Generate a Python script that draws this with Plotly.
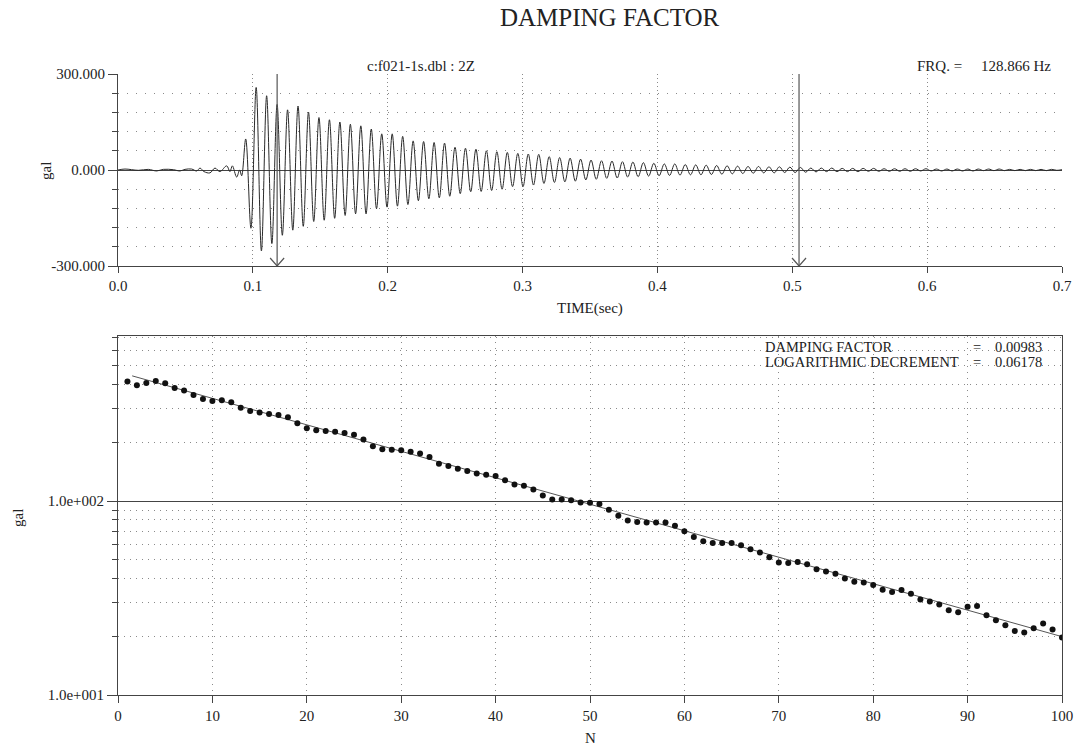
import plotly.graph_objects as go

# ---------------- data ----------------
FRQ_HZ = 128.866
DAMPING_FACTOR = "0.00983"
LOG_DECREMENT = "0.06178"

# pre-onset noise of the record (time s, acceleration gal)
noise_t = [0.0, 0.0052, 0.0151, 0.0225, 0.0287, 0.0336, 0.0410, 0.0460, 0.0497, 0.0546,
           0.0584, 0.0608, 0.0638, 0.0682, 0.0719, 0.0756, 0.0806, 0.0830, 0.0848, 0.0880,
           0.0902, 0.0917]
noise_v = [0, 3, -1, 2, -3, 2, 1, -3, 2, 3,
           -3, 6, -5, -9, 6, -5, 13, -5, 13, -22,
           0, -18]

# successive extrema (alternating peak / trough, gal) of the free vibration,
# first extremum at onset_t, one extremum every half period
onset_t = 0.0947
extrema_gal = [97, -182, 258, -253, 232, -230, 205, -204, 188, -188,
               200, -176, 181, -161, 164, -157, 157, -151, 150, -142,
               143, -137, 138, -137, 128, -121, 113, -116, 113, -113,
               105, -108, 91, -96, 89, -90, 86, -87, 84, -82,
               71, -74, 68, -68, 65, -67, 60, -64, 57, -60,
               55, -52, 52, -52, 50, -47, 49, -42, 42, -39,
               39, -37, 37, -35, 34, -31, 31, -29, 29, -26,
               28, -25, 26, -22, 25, -21, 23, -19, 21, -18,
               19, -17, 19, -16, 17, -15, 16, -15, 15, -14,
               14, -13, 13, -12, 12, -11, 11, -10, 11, -9,
               10, -9, 10, -8, 9, -8, 8, -7, 6, -6,
               6, -5, 6, -5, 5, -5, 5, -5, 5, -4,
               5, -4, 4, -4, 4, -4, 4, -4, 4, -3,
               4, -3, 3, -3, 3, -3, 3, -3, 3, -3,
               3, -2, 3, -2, 3, -2, 2, -2, 2, -2,
               2, -2, 2, -2, 2, -1, 1]

cursor_times = [0.118, 0.505]

# damping analysis: half-cycle number N and peak-to-peak amplitude (gal)
cycle_n = list(range(1, 101))
amp_gal = [414, 396, 407, 417, 406, 384, 372, 353, 337, 329,
           332, 324, 303, 292, 287, 282, 278, 271, 252, 238,
           232, 230, 228, 225, 220, 208, 192, 185, 184, 183,
           180, 176, 169, 156, 152, 147, 143, 139, 137, 135,
           128, 122, 120, 115, 107, 102, 102, 101, 98.5, 98,
           96.6, 90.2, 84, 79.5, 78.1, 77.6, 77.6, 77.6, 74.6, 70,
           65.4, 62.2, 60.8, 60.8, 60.8, 59.3, 56.4, 54.3, 51.4, 48.3,
           47.9, 48.5, 47.2, 44.5, 43.4, 42.2, 39.9, 38.4, 38.1, 36.9,
           34.9, 34.0, 34.8, 33.3, 31.1, 30.4, 29.3, 27.4, 26.7, 28.5,
           28.8, 25.8, 24.3, 22.9, 21.4, 21.0, 22.1, 23.4, 21.8, 19.8]
fit_n = [1.5, 100]
fit_gal = [443, 20.0]

top_xticks = [0.0, 0.1, 0.2, 0.3, 0.4, 0.5, 0.6, 0.7]
top_yticks = [-300, 0, 300]
top_yticktext = ["-300.000", "0.000", "300.000"]
top_yminor = [-240, -180, -120, -60, 60, 120, 180, 240]
bot_xticks = [0, 10, 20, 30, 40, 50, 60, 70, 80, 90, 100]
bot_yticks = [10, 100]
bot_yticktext = ["1.0e+001", "1.0e+002"]
bot_yminor = [20, 30, 40, 50, 60, 70, 80, 90, 200, 300, 400, 500, 600, 700]

# ---------------- figure ----------------
W, H = 1074, 751
FONT = "Liberation Serif"
AX = "#444444"
GRID = "#8a8a8a"


def px(x):
    return x / W


def py(y):
    return 1 - y / H


half_period = 0.5 / FRQ_HZ
wave_t = noise_t + [onset_t + k * half_period for k in range(len(extrema_gal))]
wave_v = noise_v + extrema_gal

fig = go.Figure()
fig.add_trace(go.Scatter(x=wave_t, y=wave_v, mode="lines", xaxis="x", yaxis="y",
                         line=dict(color="#2a2a2a", width=1, shape="spline", smoothing=1.0),
                         showlegend=False, hoverinfo="skip"))
fig.add_trace(go.Scatter(x=fit_n, y=fit_gal, mode="lines", xaxis="x2", yaxis="y2",
                         line=dict(color="#555555", width=1), showlegend=False))
fig.add_trace(go.Scatter(x=cycle_n, y=amp_gal, mode="markers", xaxis="x2", yaxis="y2",
                         marker=dict(color="#111111", size=6), showlegend=False))

tickfont = dict(family=FONT, size=15, color="#222222")
fig.update_layout(
    template="none",
    width=W, height=H, autosize=False,
    margin=dict(l=0, r=0, t=0, b=0, pad=0),
    paper_bgcolor="white", plot_bgcolor="white",
    font=dict(family=FONT, size=15, color="#222222"),
    xaxis=dict(domain=[px(118), px(1062)], range=[0, 0.7], anchor="y", automargin=False,
               tickmode="array", tickvals=top_xticks,
               ticktext=[f"{v:.1f}" for v in top_xticks],
               ticks="outside", ticklen=6, tickcolor=AX, tickfont=tickfont,
               showline=True, linecolor=AX, linewidth=1, mirror=False,
               showgrid=True, gridcolor=GRID, griddash="1px,3px", gridwidth=1,
               zeroline=False),
    yaxis=dict(domain=[py(266), py(74)], range=[-300, 300], anchor="x", automargin=False,
               tickmode="array", tickvals=top_yticks, ticktext=top_yticktext,
               ticks="outside", ticklen=9, tickcolor=AX, tickfont=tickfont,
               showline=True, linecolor=AX, linewidth=1,
               showgrid=True, gridcolor=GRID, griddash="1px,8px", gridwidth=1,
               zeroline=True, zerolinecolor=AX, zerolinewidth=1,
               minor=dict(tickmode="array", tickvals=top_yminor, ticks="outside",
                          ticklen=5, tickcolor=AX, showgrid=True, gridcolor=GRID,
                          griddash="1px,8px", gridwidth=1)),
    xaxis2=dict(domain=[px(118), px(1062)], range=[0, 100], anchor="y2", automargin=False,
                tickmode="array", tickvals=bot_xticks,
                ticks="outside", ticklen=7, tickcolor=AX, tickfont=tickfont,
                showline=True, linecolor=AX, linewidth=1, mirror=True,
                showgrid=True, gridcolor=GRID, griddash="1px,5px", gridwidth=1,
                zeroline=False),
    yaxis2=dict(domain=[py(695), py(336)], type="log", range=[1, 2.852], anchor="x2",
                automargin=False,
                tickmode="array", tickvals=bot_yticks, ticktext=bot_yticktext,
                ticks="outside", ticklen=10, tickcolor=AX, tickfont=tickfont,
                showline=True, linecolor=AX, linewidth=1, mirror=True,
                showgrid=True, gridcolor=AX, gridwidth=1,
                zeroline=False,
                minor=dict(tickmode="array", tickvals=bot_yminor, ticks="outside",
                           ticklen=5, tickcolor=AX, showgrid=True, gridcolor=GRID,
                           griddash="1px,5px", gridwidth=1)),
)

# cursor lines with open arrowheads
for t in cursor_times:
    fig.add_shape(type="line", xref="x", yref="y", x0=t, x1=t, y0=-300, y1=300,
                  line=dict(color="#555555", width=1.2))
    fig.add_shape(type="path", xref="x", yref="y", xsizemode="pixel", ysizemode="pixel",
                  xanchor=t, yanchor=-300, path="M-7,8 L0,0 L7,8",
                  line=dict(color="#555555", width=1.2))


def label(text, x, y, size=15, xanchor="center", angle=0):
    fig.add_annotation(text=text, xref="paper", yref="paper", x=px(x), y=py(y),
                       xanchor=xanchor, yanchor="middle", showarrow=False,
                       textangle=angle, font=dict(family=FONT, size=size, color="#222222"))


label("DAMPING FACTOR", 610, 18, size=25)
label("c:f021-1s.dbl : 2Z", 421, 66)
label("FRQ. =", 964, 66, xanchor="right")
label("128.866 Hz", 979, 66, xanchor="left")
label("TIME(sec)", 590, 308)
label("gal", 46, 171, angle=-90)
label("gal", 18, 518, angle=-90)
label("N", 590, 738)
label("DAMPING FACTOR", 763, 347, size=14.5, xanchor="left")
label("LOGARITHMIC DECREMENT", 763, 362, size=14.5, xanchor="left")
label("=", 977, 347, size=14.5)
label("=", 977, 362, size=14.5)
label(DAMPING_FACTOR, 993, 347, size=14.5, xanchor="left")
label(LOG_DECREMENT, 993, 362, size=14.5, xanchor="left")

fig.write_html("out.html",
               config={"displayModeBar": False},
               post_script="document.body.style.margin='0px';"
                           "document.body.style.overflow='hidden';")
